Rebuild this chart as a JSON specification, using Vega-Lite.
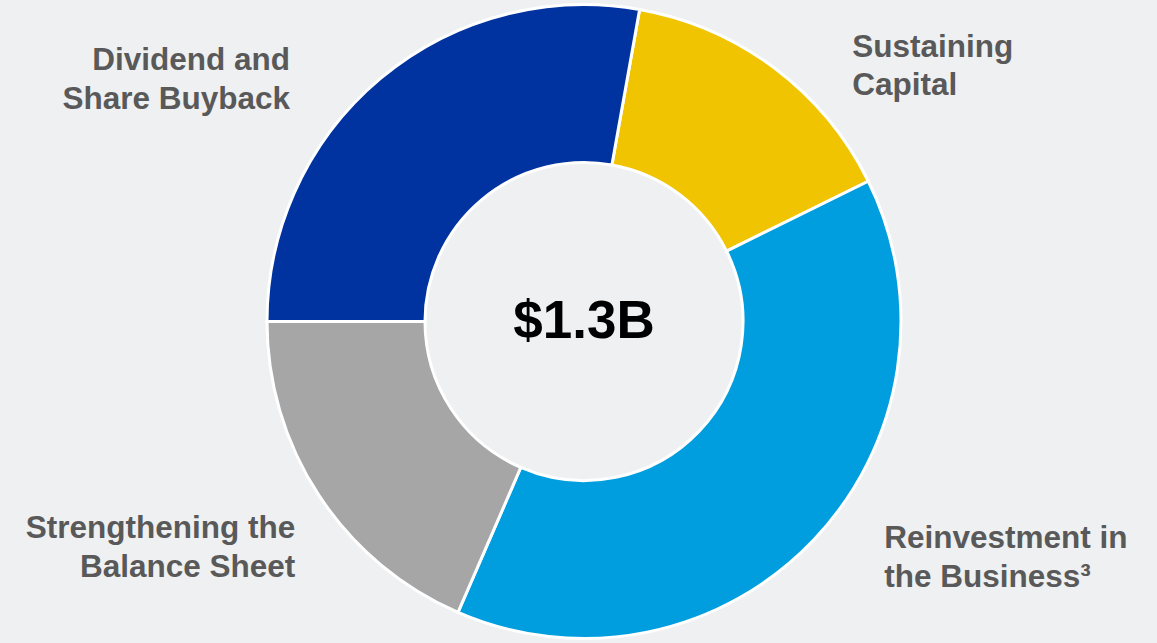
{
  "$schema": "https://vega.github.io/schema/vega-lite/v6.json",
  "autosize": {"type": "fit", "contains": "padding"},
  "width": 1157,
  "height": 643,
  "padding": {"left": 11, "right": 0, "top": 0, "bottom": 0},
  "background": "#eff0f2",
  "config": {"view": {"stroke": null}, "font": "Liberation Sans"},
  "datasets": {
    "alloc": [
      {"category": "Sustaining Capital", "label": "Sustaining\nCapital", "share": 14.9, "rank": 1},
      {"category": "Reinvestment in the Business", "label": "Reinvestment in\nthe Business³", "share": 38.8, "rank": 2},
      {"category": "Strengthening the Balance Sheet", "label": "Strengthening the\nBalance Sheet", "share": 18.5, "rank": 3},
      {"category": "Dividend and Share Buyback", "label": "Dividend and\nShare Buyback", "share": 27.8, "rank": 4}
    ],
    "total": [{"t": "$1.3B"}]
  },
  "layer": [
    {
      "data": {"name": "alloc"},
      "mark": {"type": "arc", "innerRadius": 159, "outerRadius": 317, "stroke": "white", "strokeWidth": 3},
      "encoding": {
        "theta": {"field": "share", "type": "quantitative", "stack": true, "scale": {"domain": [0, 100], "range": [0.1763, 6.4595]}},
        "order": {"field": "rank", "type": "quantitative"},
        "color": {
          "field": "category", "type": "nominal", "legend": null,
          "scale": {
            "domain": ["Sustaining Capital", "Reinvestment in the Business", "Strengthening the Balance Sheet", "Dividend and Share Buyback"],
            "range": ["#f0c400", "#009ede", "#a6a6a6", "#0033a0"]
          }
        }
      }
    },
    {
      "data": {"name": "alloc"},
      "mark": {
        "type": "text", "radius": 380, "fontSize": 31.5, "fontWeight": "bold", "color": "#595959",
        "lineBreak": "\n", "lineHeight": 38.5, "baseline": "middle",
        "align": {"expr": "datum.rank <= 2 ? 'left' : 'right'"},
        "dx": {"expr": "datum.rank == 1 ? 40 : datum.rank == 2 ? 25 : datum.rank == 3 ? 29 : -50"},
        "dy": {"expr": "datum.rank == 1 ? 30 : datum.rank == 2 ? -44 : datum.rank == 3 ? -1 : 31"}
      },
      "encoding": {
        "theta": {"field": "share", "type": "quantitative", "stack": true, "scale": {"domain": [0, 100], "range": [0.1763, 6.4595]}},
        "order": {"field": "rank", "type": "quantitative"},
        "text": {"field": "label", "type": "nominal"}
      }
    },
    {
      "data": {"name": "total"},
      "mark": {"type": "text", "fontSize": 53, "fontWeight": "bold", "color": "#000000", "baseline": "middle", "align": "center"},
      "encoding": {"text": {"field": "t", "type": "nominal"}}
    }
  ]
}
